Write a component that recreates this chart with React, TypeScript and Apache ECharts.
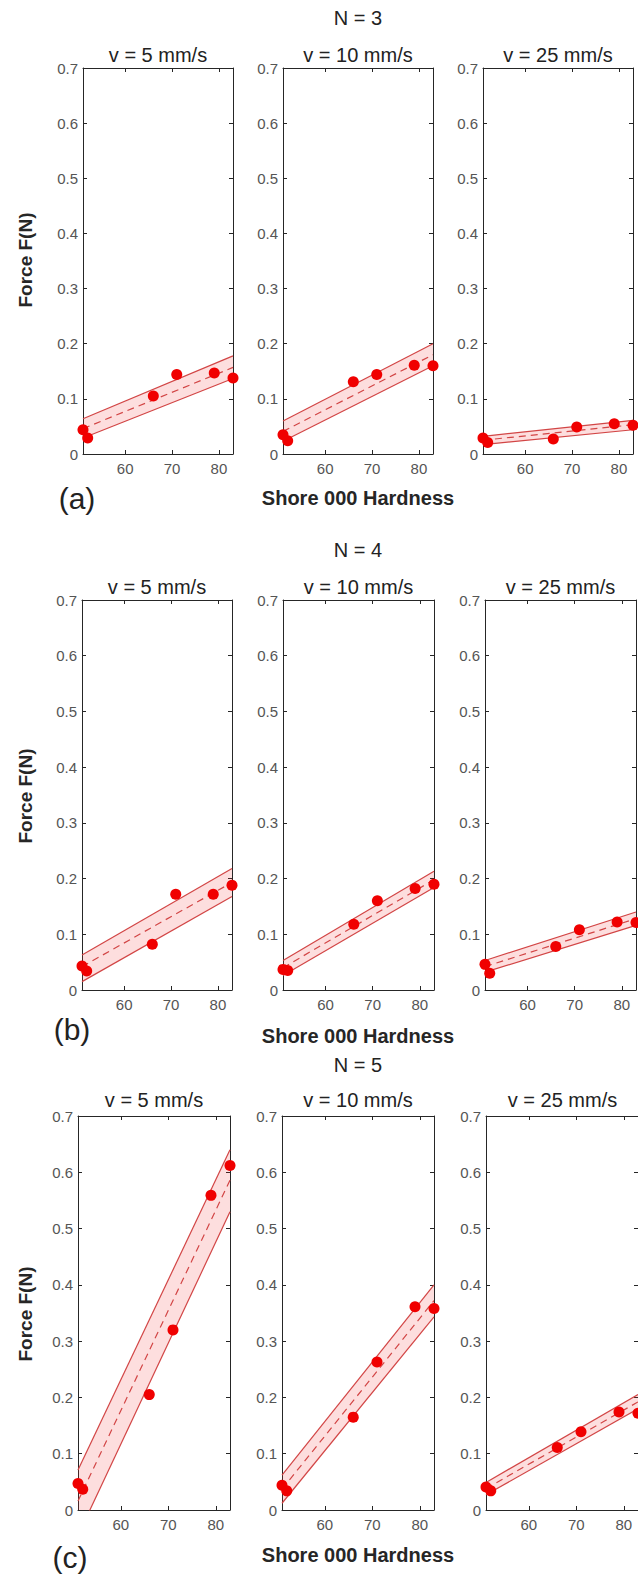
import React, { useEffect, useRef } from "react";
import * as echarts from "echarts";

// ---------- data ----------
const hardness = [51, 52, 66, 71, 79, 83];
const fitX = [51, 83];
const xTicks = [60, 70, 80];
const speedTitles = ["v = 5 mm/s", "v = 10 mm/s", "v = 25 mm/s"];
const rowTitles = ["N = 3", "N = 4", "N = 5"];
const panelTags = ["(a)", "(b)", "(c)"];
const xAxisTitle = "Shore 000 Hardness";
const yAxisTitle = "Force F(N)";

// measured forces (N) for each hardness value
const forceN3 = [
  [0.044, 0.029, 0.105, 0.144, 0.147, 0.138],
  [0.035, 0.024, 0.131, 0.144, 0.161, 0.160],
  [0.029, 0.021, 0.027, 0.049, 0.055, 0.052],
];
const forceN4 = [
  [0.043, 0.034, 0.082, 0.172, 0.172, 0.188],
  [0.037, 0.035, 0.118, 0.160, 0.182, 0.190],
  [0.046, 0.030, 0.078, 0.108, 0.122, 0.121],
];
const forceN5 = [
  [0.047, 0.037, 0.205, 0.320, 0.559, 0.612],
  [0.044, 0.034, 0.165, 0.263, 0.361, 0.358],
  [0.041, 0.034, 0.111, 0.139, 0.174, 0.172],
];

// fitted line (at hardness 51 and 83) and band edges
const fitN3 = [[0.046, 0.157], [0.041, 0.180], [0.025, 0.053]];
const upperN3 = [[0.064, 0.178], [0.060, 0.200], [0.032, 0.061]];
const lowerN3 = [[0.029, 0.137], [0.023, 0.160], [0.017, 0.044]];

const fitN4 = [[0.042, 0.193], [0.040, 0.198], [0.042, 0.128]];
const upperN4 = [[0.063, 0.218], [0.053, 0.213], [0.053, 0.140]];
const lowerN4 = [[0.015, 0.168], [0.026, 0.184], [0.032, 0.116]];

const fitN5 = [[0.016, 0.586], [0.037, 0.372], [0.038, 0.192]];
const upperN5 = [[0.071, 0.640], [0.062, 0.400], [0.049, 0.205]];
const lowerN5 = [[-0.045, 0.530], [0.012, 0.343], [0.027, 0.180]];

const forces = [forceN3, forceN4, forceN5];
const fits = [fitN3, fitN4, fitN5];
const uppers = [upperN3, upperN4, upperN5];
const lowers = [lowerN3, lowerN4, lowerN5];

// ---------- layout (pixels) ----------
const rowLayout = [
  { top: 68, height: 386, lefts: [83, 283, 483], widths: [150, 150, 150], nY: 18, subY: 55, tagX: 77, tagY: 498, xlabY: 498, ylabY: 260 },
  { top: 600, height: 390, lefts: [82, 283, 485], widths: [150, 151, 151], nY: 550, subY: 587, tagX: 72, tagY: 1029, xlabY: 1036, ylabY: 796 },
  { top: 1116, height: 394, lefts: [78, 282, 486], widths: [152, 152, 153], nY: 1065, subY: 1100, tagX: 70, tagY: 1557, xlabY: 1555, ylabY: 1314 },
];

const FONT = "'Liberation Sans', Arial, Helvetica, sans-serif";
const AX = "#262626";
const LBL = "#555555";
const EDGE = "#d24545";
const FILL = "rgba(240, 50, 50, 0.16)";
const DOT = "#f00000";

function buildOption() {
  const grid: any[] = [];
  const xAxis: any[] = [];
  const yAxis: any[] = [];
  const series: any[] = [];
  const graphic: any[] = [];

  rowLayout.forEach((row, r) => {
    for (let c = 0; c < 3; c++) {
      const g = r * 3 + c;
      grid.push({ left: row.lefts[c], top: row.top, width: row.widths[c], height: row.height, containLabel: false });
      const xBase = {
        type: "value", gridIndex: g, min: 51, max: 83,
        axisLine: { show: true, onZero: false, lineStyle: { color: AX, width: 1 } },
        axisTick: { show: true, inside: true, length: 4, customValues: xTicks, lineStyle: { color: AX } },
        splitLine: { show: false },
      };
      xAxis.push({ ...xBase, position: "bottom",
        axisLabel: { show: true, customValues: xTicks, color: LBL, fontSize: 15, fontFamily: FONT, margin: 7 } });
      xAxis.push({ ...xBase, position: "top", axisLabel: { show: false } });
      const yBase = {
        type: "value", gridIndex: g, min: 0, max: 0.7, interval: 0.1,
        axisLine: { show: true, onZero: false, lineStyle: { color: AX, width: 1 } },
        axisTick: { show: true, inside: true, length: 4, lineStyle: { color: AX } },
        splitLine: { show: false },
      };
      yAxis.push({ ...yBase, position: "left",
        axisLabel: { show: true, color: LBL, fontSize: 15, fontFamily: FONT, margin: 5 } });
      yAxis.push({ ...yBase, position: "right", axisLabel: { show: false } });

      const xi = 2 * g;
      const yi = 2 * g;
      const lo = lowers[r][c];
      const up = uppers[r][c];
      const fit = fits[r][c];

      // shaded band between lower and upper edges
      series.push({
        type: "custom", xAxisIndex: xi, yAxisIndex: yi, clip: true, silent: true, z: 1,
        data: [[fitX[0], lo[0], up[0], fitX[1], lo[1], up[1]]],
        encode: { x: [0, 3], y: [1, 2, 4, 5] },
        renderItem: (params: any, api: any) => {
          const a = api.coord([api.value(0), api.value(1)]);
          const b = api.coord([api.value(3), api.value(4)]);
          const cc = api.coord([api.value(3), api.value(5)]);
          const d = api.coord([api.value(0), api.value(2)]);
          return { type: "polygon", shape: { points: [a, b, cc, d] }, style: { fill: FILL } };
        },
      });
      series.push({
        type: "line", xAxisIndex: xi, yAxisIndex: yi,
        data: fitX.map((x, i) => [x, lo[i]]), showSymbol: false, silent: true,
        lineStyle: { color: EDGE, width: 1.2 }, z: 2,
      });
      series.push({
        type: "line", xAxisIndex: xi, yAxisIndex: yi,
        data: fitX.map((x, i) => [x, up[i]]), showSymbol: false, silent: true,
        lineStyle: { color: EDGE, width: 1.2 }, z: 2,
      });
      series.push({
        type: "line", xAxisIndex: xi, yAxisIndex: yi,
        data: fitX.map((x, i) => [x, fit[i]]), showSymbol: false, silent: true,
        lineStyle: { color: EDGE, width: 1.2, type: [7, 5] }, z: 3,
      });
      series.push({
        type: "scatter", xAxisIndex: xi, yAxisIndex: yi, clip: false,
        data: hardness.map((x, i) => [x, forces[r][c][i]]),
        symbol: "circle", symbolSize: 11, itemStyle: { color: DOT, opacity: 1 }, z: 5,
      });

      graphic.push({
        type: "text", x: row.lefts[c] + row.widths[c] / 2, y: row.subY,
        style: { text: speedTitles[c], fontSize: 20, fontFamily: FONT, fill: "#222", align: "center", verticalAlign: "middle" },
      });
    }
    graphic.push({
      type: "text", x: 358, y: row.nY,
      style: { text: rowTitles[r], fontSize: 20, fontFamily: FONT, fill: "#222", align: "center", verticalAlign: "middle" },
    });
    graphic.push({
      type: "text", x: row.tagX, y: row.tagY,
      style: { text: panelTags[r], fontSize: 30, fontFamily: FONT, fill: "#222", align: "center", verticalAlign: "middle" },
    });
    graphic.push({
      type: "text", x: 358, y: row.xlabY,
      style: { text: xAxisTitle, fontSize: 20, fontWeight: "bold", fontFamily: FONT, fill: "#262626", align: "center", verticalAlign: "middle" },
    });
    graphic.push({
      type: "text", x: 25, y: row.ylabY, rotation: Math.PI / 2,
      style: { text: yAxisTitle, fontSize: 19, fontWeight: "bold", fontFamily: FONT, fill: "#262626", align: "center", verticalAlign: "middle" },
    });
  });

  return {
    animation: false,
    backgroundColor: "#ffffff",
    textStyle: { fontFamily: FONT },
    grid, xAxis, yAxis, series, graphic,
  };
}

export default function App() {
  const ref = useRef<HTMLDivElement>(null);
  useEffect(() => {
    document.body.style.margin = "0";
    document.body.style.overflow = "hidden";
    if (!ref.current) return;
    const chart = echarts.init(ref.current, null, { renderer: "svg" });
    chart.setOption(buildOption() as any);
    return () => chart.dispose();
  }, []);
  return <div ref={ref} style={{ position: "absolute", left: 0, top: 0, width: 638, height: 1575 }} />;
}
